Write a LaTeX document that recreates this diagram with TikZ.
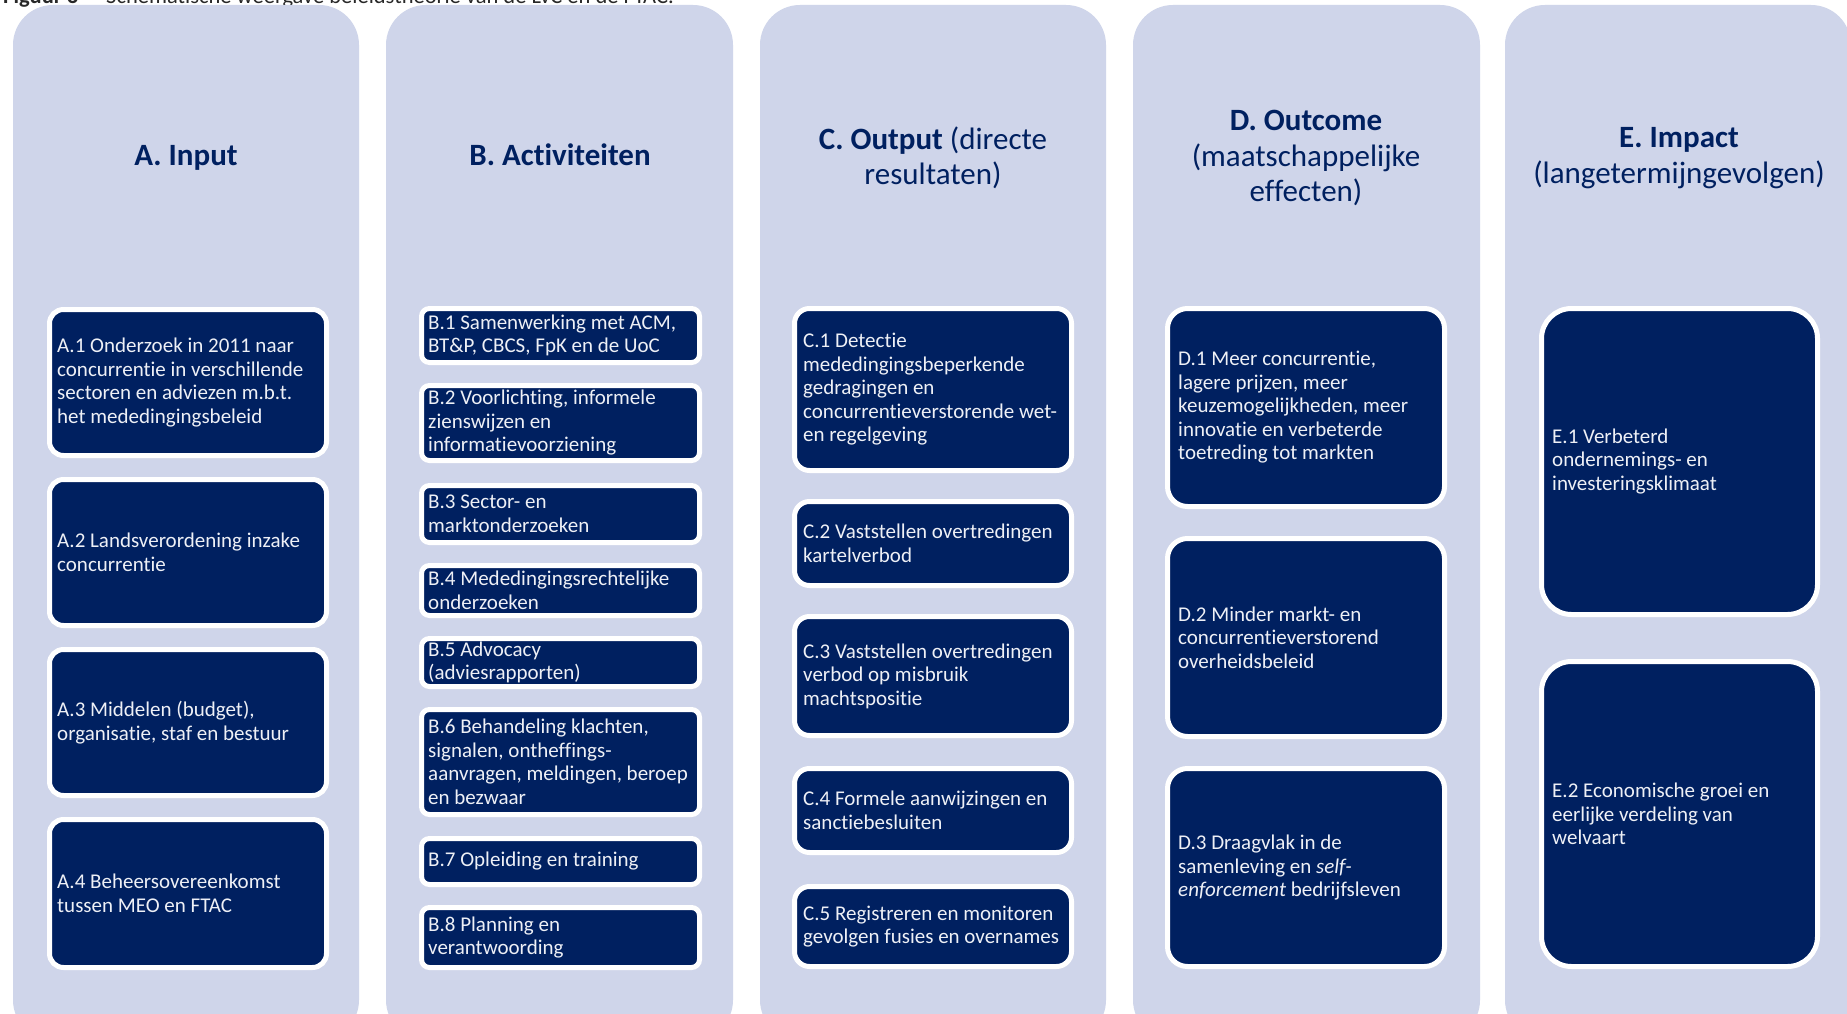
\documentclass[tikz,border=0pt]{standalone}
\usepackage{fontspec}
\setmainfont{Carlito}[Ligatures={NoCommon}]
\definecolor{colbg}{RGB}{207,213,234}
\definecolor{navy}{RGB}{0,32,96}
\definecolor{headnavy}{RGB}{0,32,96}
\definecolor{boxtxt}{RGB}{238,240,246}
\definecolor{captxt}{RGB}{40,40,40}

% box: name, x1, y1, x2, y2 (outer edges), corner radius, text indent, text
\newcommand\cbox[8]{%
  \pgfmathsetmacro\cbW{#4-#2-5}%
  \pgfmathsetmacro\cbH{#5-#3-5}%
  \node[navybox, rounded corners=#6pt, minimum width=\cbW pt, minimum height=\cbH pt]
    (#1) at ({(#2+#4)/2},{(#3+#5)/2}) {};
  \node[boxtext] (#1t) at ([xshift=#7pt]#1.west) {#8};
}

\begin{document}
\begin{tikzpicture}[x=1pt,y=-1pt,
  column/.style={fill=colbg, rounded corners=40pt},
  navybox/.style={fill=navy, draw=white, line width=5pt, inner sep=0pt},
  boxtext/.style={anchor=west, align=left, inner sep=0pt, text=boxtxt,
    font=\fontsize{21}{23.5}\selectfont},
  head/.style={align=center, inner sep=0pt, text=headnavy,
    font=\fontsize{31}{35.5}\selectfont},
  captext/.style={anchor=base west, inner sep=0pt, text=captxt,
    font=\fontsize{22.5}{27}\selectfont}]
\useasboundingbox (0,0) rectangle (1847,1014);
\fill[white] (0,0) rectangle (1847,1014);

% caption line above the columns
\node[captext] (cap1) at (3,3.5) {\textbf{Figuur 3}};
\node[captext] (cap2) at (106,3.5) {Schematische weergave beleidstheorie van de LvC en de FTAC.};

% columns
\fill[column] (13,5) rectangle (359,1040);
\fill[column] (386,5) rectangle (733,1040);
\fill[column] (760,5) rectangle (1106,1040);
\fill[column] (1133,5) rectangle (1480,1040);
\fill[column] (1505,5) rectangle (1851,1040);

% column headings
\node[head] (hA) at (186,158) {\textbf{A. Input}};
\node[head] (hB) at (560,155) {\textbf{B. Activiteiten}};
\node[head] (hC) at (933,158) {\textbf{C. Output} (directe\\resultaten)};
\node[head] (hD) at (1306,158) {\textbf{D. Outcome}\\(maatschappelijke\\effecten)};
\node[head] (hE) at (1679,158) {\textbf{E. Impact}\\(langetermijngevolgen)};

% A. Input
\cbox{a1}{47}{307}{329}{458}{14}{10}{A.1 Onderzoek in 2011 naar\\concurrentie in verschillende\\sectoren en adviezen m.b.t.\\het mededingingsbeleid}
\cbox{a2}{47}{477}{329}{628}{14}{10}{A.2 Landsverordening inzake\\concurrentie}
\cbox{a3}{47}{647}{329}{798}{14}{10}{A.3 Middelen (budget),\\organisatie, staf en bestuur}
\cbox{a4}{47}{817}{329}{970}{14}{10}{A.4 Beheersovereenkomst\\tussen MEO en FTAC}

% B. Activiteiten
\cbox{b1}{419}{306}{702}{365}{8}{9}{B.1 Samenwerking met ACM,\\BT\&P, CBCS, FpK en de UoC}
\cbox{b2}{419}{383}{702}{463}{8}{9}{B.2 Voorlichting, informele\\zienswijzen en\\informatievoorziening}
\cbox{b3}{419}{483}{702}{545}{8}{9}{B.3 Sector- en\\marktonderzoeken}
\cbox{b4}{419}{563}{702}{618}{8}{9}{B.4 Mededingingsrechtelijke\\onderzoeken}
\cbox{b5}{419}{636}{702}{689}{8}{9}{B.5 Advocacy\\(adviesrapporten)}
\cbox{b6}{419}{707}{702}{817}{8}{9}{B.6 Behandeling klachten,\\signalen, ontheffings-\\aanvragen, meldingen, beroep\\en bezwaar}
\cbox{b7}{419}{836}{702}{887}{8}{9}{B.7 Opleiding en training}
\cbox{b8}{419}{905}{702}{970}{8}{9}{B.8 Planning en\\verantwoording}

% C. Output
\cbox{c1}{792}{306}{1074}{473}{15}{11}{C.1 Detectie\\mededingingsbeperkende\\gedragingen en\\concurrentieverstorende wet-\\en regelgeving}
\cbox{c2}{792}{499}{1074}{588}{15}{11}{C.2 Vaststellen overtredingen\\kartelverbod}
\cbox{c3}{792}{614}{1074}{738}{15}{11}{C.3 Vaststellen overtredingen\\verbod op misbruik\\machtspositie}
\cbox{c4}{792}{766}{1074}{855}{15}{11}{C.4 Formele aanwijzingen en\\sanctiebesluiten}
\cbox{c5}{792}{884}{1074}{969}{15}{11}{C.5 Registreren en monitoren\\gevolgen fusies en overnames}

% D. Outcome
\cbox{d1}{1165}{306}{1447}{509}{20}{13}{D.1 Meer concurrentie,\\lagere prijzen, meer\\keuzemogelijkheden, meer\\innovatie en verbeterde\\toetreding tot markten}
\cbox{d2}{1165}{536}{1447}{739}{20}{13}{D.2 Minder markt- en\\concurrentieverstorend\\overheidsbeleid}
\cbox{d3}{1165}{766}{1447}{969}{20}{13}{D.3 Draagvlak in de\\samenleving en \textit{self-}\\\textit{enforcement} bedrijfsleven}

% E. Impact
\cbox{e1}{1539}{306}{1820}{617}{30}{13}{E.1 Verbeterd\\ondernemings- en\\investeringsklimaat}
\cbox{e2}{1539}{659}{1820}{969}{30}{13}{E.2 Economische groei en\\eerlijke verdeling van\\welvaart}
\end{tikzpicture}
\end{document}
